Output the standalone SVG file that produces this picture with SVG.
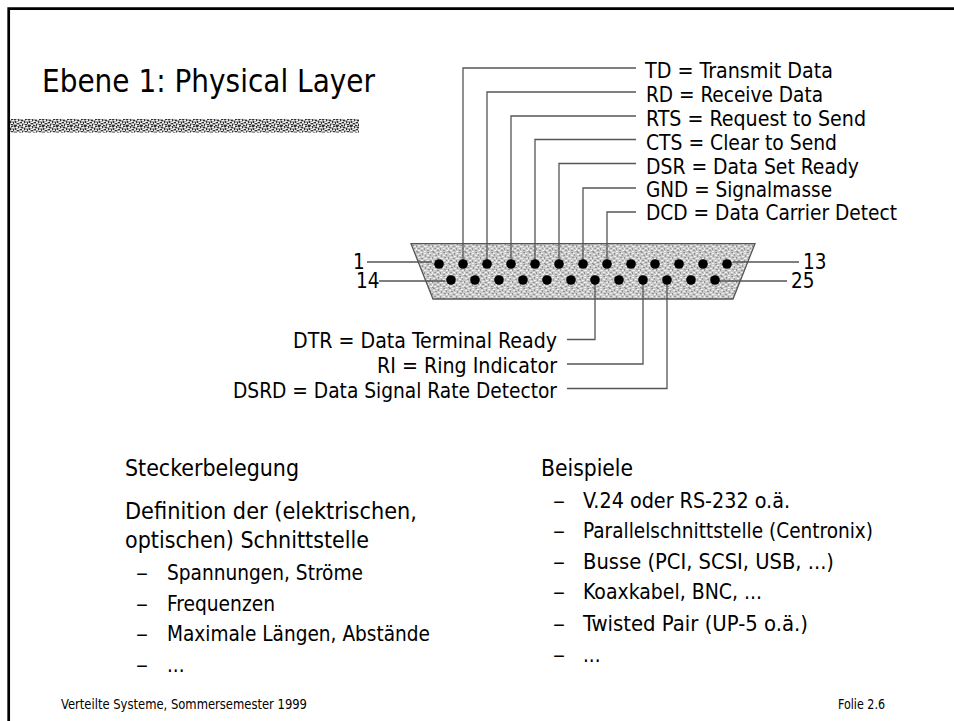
<svg xmlns="http://www.w3.org/2000/svg" width="954" height="721" viewBox="0 0 954 721">
<style>
text{font-family:"DejaVu Sans Condensed","DejaVu Sans","Liberation Sans",sans-serif;font-stretch:condensed;fill:#000}
.t{font-size:32px}.l{font-size:20.5px}.h{font-size:23.5px}.i{font-size:20.5px}.f{font-size:13.5px}
.c{fill:none;stroke:#555;stroke-width:1.3}
.pin{fill:#000}
</style>
<defs>
<pattern id="barNoise" width="14" height="7" patternUnits="userSpaceOnUse">
<rect width="14" height="7" fill="#aaa"/>
<path d="M0 0h2v1h-2zM4 0h1v2h-1zM7 1h2v1h-2zM11 0h2v1h-2zM1 2h1v2h-1zM6 3h2v1h-2zM10 2h1v2h-1zM13 3h1v2h-1zM3 4h2v1h-2zM8 5h1v2h-1zM0 6h3v1h-3zM11 5h2v1h-2zM5 6h2v1h-2z" fill="#333" shape-rendering="crispEdges"/>
<path d="M2 1h2v1h-2zM5 2h2v1h-2zM9 0h2v1h-2zM12 1h2v1h-2zM3 3h2v1h-2zM8 3h2v1h-2zM0 4h2v1h-2zM6 5h2v1h-2zM11 4h2v1h-2zM3 6h2v1h-2zM9 6h2v1h-2z" fill="#f4f4f4" shape-rendering="crispEdges"/>
</pattern>
<pattern id="bodyNoise" width="16" height="12" patternUnits="userSpaceOnUse">
<rect width="16" height="12" fill="#c8c8c8"/>
<path d="M1 0h2v1h-2zM6 1h1v2h-1zM11 0h2v1h-2zM3 3h2v1h-2zM9 3h1v2h-1zM14 2h1v2h-1zM0 5h1v2h-1zM5 6h2v1h-2zM12 5h2v1h-2zM2 8h2v1h-2zM8 8h1v2h-1zM14 8h1v1h-1zM5 10h2v1h-2zM11 10h2v1h-2zM0 11h2v1h-2z" fill="#959595" shape-rendering="crispEdges"/>
<path d="M4 0h2v1h-2zM8 1h2v1h-2zM13 1h2v1h-2zM1 2h2v1h-2zM6 4h2v1h-2zM11 3h2v1h-2zM2 5h2v1h-2zM8 6h3v1h-3zM14 6h2v1h-2zM0 8h1v2h-1zM5 8h2v1h-2zM11 8h2v1h-2zM2 10h2v1h-2zM8 11h2v1h-2zM14 10h2v1h-2z" fill="#f0f0f0" shape-rendering="crispEdges"/>
</pattern>
</defs>

<path id="frame" d="M8.7 721V8.7H954" fill="none" stroke="#000" stroke-width="2.7"/>
<g id="title">
<text class="t" x="42" y="92" textLength="333" lengthAdjust="spacingAndGlyphs">Ebene 1: Physical Layer</text>
<rect x="10" y="119" width="349" height="13.5" fill="url(#barNoise)"/>
</g>

<g id="connector-shell">
<path d="M411 243.700H755L733 299H433Z" fill="url(#bodyNoise)" stroke="#555" stroke-width="1.3"/>
</g>

<g id="connectors">
<path class="c" d="M463 264V68H636"/>
<path class="c" d="M487 264V92H636"/>
<path class="c" d="M511 264V116H636"/>
<path class="c" d="M535 264V139.500H636"/>
<path class="c" d="M559 264V163.500H636"/>
<path class="c" d="M583 264V188H636"/>
<path class="c" d="M607 264V212H636"/>
<path class="c" d="M595 280V339.500H567"/>
<path class="c" d="M643 280V364H567"/>
<path class="c" d="M667 280V388.500H567"/>
<path class="c" d="M367 262H432"/>
<path class="c" d="M379 281H445"/>
<path class="c" d="M733 262H799"/>
<path class="c" d="M718 281H787"/>
</g>

<g id="pins">
<circle class="pin" cx="439" cy="264" r="4.800"/><circle class="pin" cx="463" cy="264" r="4.800"/><circle class="pin" cx="487" cy="264" r="4.800"/><circle class="pin" cx="511" cy="264" r="4.800"/><circle class="pin" cx="535" cy="264" r="4.800"/><circle class="pin" cx="559" cy="264" r="4.800"/><circle class="pin" cx="583" cy="264" r="4.800"/><circle class="pin" cx="607" cy="264" r="4.800"/><circle class="pin" cx="631" cy="264" r="4.800"/><circle class="pin" cx="655" cy="264" r="4.800"/><circle class="pin" cx="679" cy="264" r="4.800"/><circle class="pin" cx="703" cy="264" r="4.800"/><circle class="pin" cx="727" cy="264" r="4.800"/>
<circle class="pin" cx="451" cy="280" r="4.800"/><circle class="pin" cx="475" cy="280" r="4.800"/><circle class="pin" cx="499" cy="280" r="4.800"/><circle class="pin" cx="523" cy="280" r="4.800"/><circle class="pin" cx="547" cy="280" r="4.800"/><circle class="pin" cx="571" cy="280" r="4.800"/><circle class="pin" cx="595" cy="280" r="4.800"/><circle class="pin" cx="619" cy="280" r="4.800"/><circle class="pin" cx="643" cy="280" r="4.800"/><circle class="pin" cx="667" cy="280" r="4.800"/><circle class="pin" cx="691" cy="280" r="4.800"/><circle class="pin" cx="715" cy="280" r="4.800"/>
</g>

<g id="signal-labels">
<text class="l" x="645" y="78" textLength="188" lengthAdjust="spacingAndGlyphs">TD = Transmit Data</text>
<text class="l" x="646" y="102" textLength="177" lengthAdjust="spacingAndGlyphs">RD = Receive Data</text>
<text class="l" x="646" y="126" textLength="220" lengthAdjust="spacingAndGlyphs">RTS = Request to Send</text>
<text class="l" x="646" y="150" textLength="191" lengthAdjust="spacingAndGlyphs">CTS = Clear to Send</text>
<text class="l" x="646" y="174" textLength="213" lengthAdjust="spacingAndGlyphs">DSR = Data Set Ready</text>
<text class="l" x="646" y="197" textLength="186" lengthAdjust="spacingAndGlyphs">GND = Signalmasse</text>
<text class="l" x="646" y="220" textLength="251" lengthAdjust="spacingAndGlyphs">DCD = Data Carrier Detect</text>
<text class="l" x="293" y="348" textLength="264" lengthAdjust="spacingAndGlyphs">DTR = Data Terminal Ready</text>
<text class="l" x="377" y="373" textLength="180" lengthAdjust="spacingAndGlyphs">RI = Ring Indicator</text>
<text class="l" x="233" y="398" textLength="324" lengthAdjust="spacingAndGlyphs">DSRD = Data Signal Rate Detector</text>
<text class="l" x="353" y="269">1</text>
<text class="l" x="356" y="288">14</text>
<text class="l" x="803" y="269">13</text>
<text class="l" x="791" y="288">25</text>
</g>

<g id="left-text">
<text class="h" x="125" y="476" textLength="174" lengthAdjust="spacingAndGlyphs">Steckerbelegung</text>
<text class="h" x="125" y="519" textLength="292" lengthAdjust="spacingAndGlyphs">Definition der (elektrischen,</text>
<text class="h" x="125" y="548" textLength="244" lengthAdjust="spacingAndGlyphs">optischen) Schnittstelle</text>
<text class="i" x="136" y="580" textLength="12" lengthAdjust="spacingAndGlyphs">–</text><text class="i" x="167" y="580" textLength="196" lengthAdjust="spacingAndGlyphs">Spannungen, Ströme</text>
<text class="i" x="136" y="611" textLength="12" lengthAdjust="spacingAndGlyphs">–</text><text class="i" x="167" y="611" textLength="108" lengthAdjust="spacingAndGlyphs">Frequenzen</text>
<text class="i" x="136" y="641" textLength="12" lengthAdjust="spacingAndGlyphs">–</text><text class="i" x="167" y="641" textLength="263" lengthAdjust="spacingAndGlyphs">Maximale Längen, Abstände</text>
<text class="i" x="136" y="672" textLength="12" lengthAdjust="spacingAndGlyphs">–</text><text class="i" x="167" y="672">...</text>
</g>

<g id="right-text">
<text class="h" x="541" y="476" textLength="92" lengthAdjust="spacingAndGlyphs">Beispiele</text>
<text class="i" x="553" y="508" textLength="12" lengthAdjust="spacingAndGlyphs">–</text><text class="i" x="583" y="508" textLength="207" lengthAdjust="spacingAndGlyphs">V.24 oder RS-232 o.ä.</text>
<text class="i" x="553" y="538" textLength="12" lengthAdjust="spacingAndGlyphs">–</text><text class="i" x="583" y="538" textLength="290" lengthAdjust="spacingAndGlyphs">Parallelschnittstelle (Centronix)</text>
<text class="i" x="553" y="569" textLength="12" lengthAdjust="spacingAndGlyphs">–</text><text class="i" x="583" y="569" textLength="251" lengthAdjust="spacingAndGlyphs">Busse (PCI, SCSI, USB, ...)</text>
<text class="i" x="553" y="599" textLength="12" lengthAdjust="spacingAndGlyphs">–</text><text class="i" x="583" y="599" textLength="179" lengthAdjust="spacingAndGlyphs">Koaxkabel, BNC, ...</text>
<text class="i" x="553" y="631" textLength="12" lengthAdjust="spacingAndGlyphs">–</text><text class="i" x="583" y="631" textLength="225" lengthAdjust="spacingAndGlyphs">Twisted Pair (UP-5 o.ä.)</text>
<text class="i" x="553" y="662" textLength="12" lengthAdjust="spacingAndGlyphs">–</text><text class="i" x="583" y="662">...</text>
</g>

<g id="footer">
<text class="f" x="61" y="709" textLength="246" lengthAdjust="spacingAndGlyphs">Verteilte Systeme, Sommersemester 1999</text>
<text class="f" x="838" y="709" textLength="47" lengthAdjust="spacingAndGlyphs">Folie 2.6</text>
</g>
</svg>
